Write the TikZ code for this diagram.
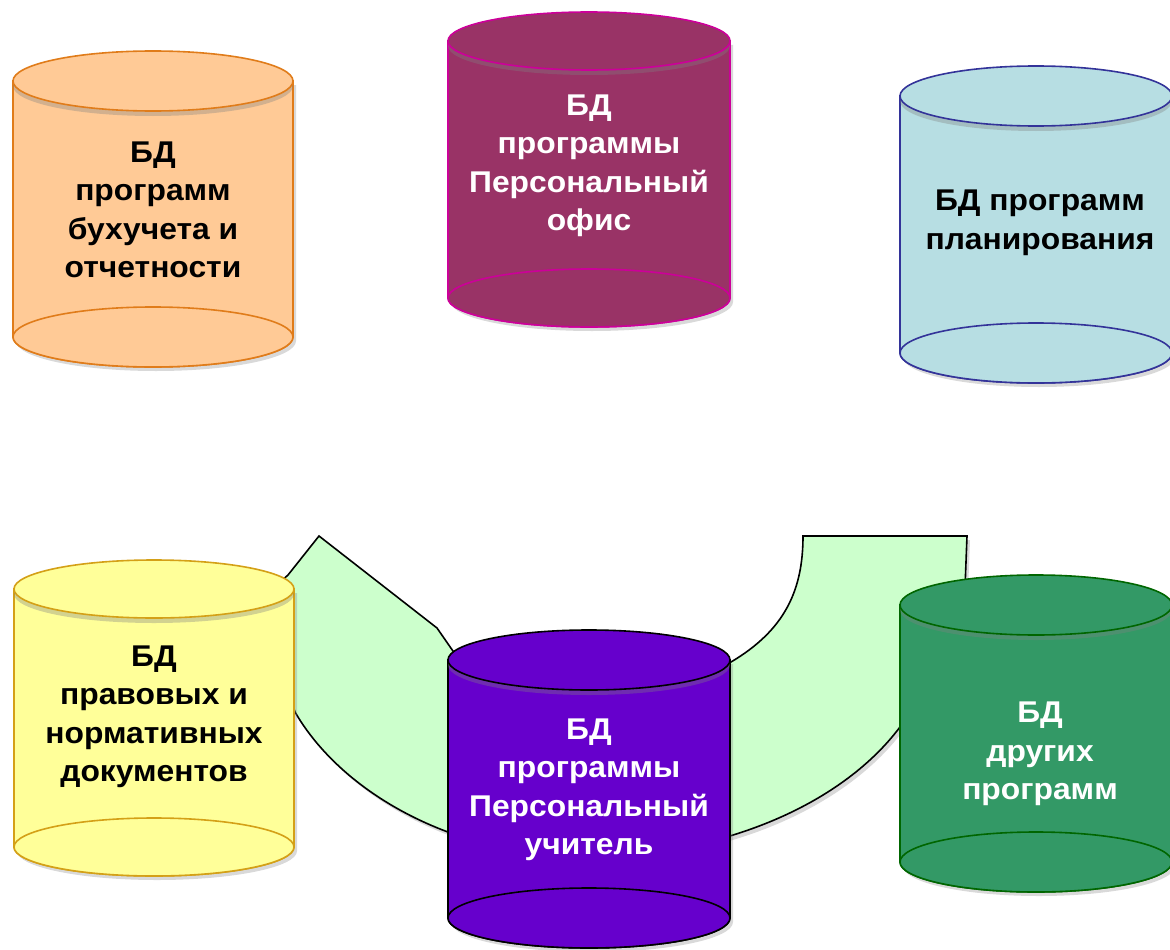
\documentclass[tikz,border=0pt]{standalone}
\usepackage{fontspec}
\setmainfont{Liberation Sans}[FakeStretch=1.06]
\usetikzlibrary{shadows}

\definecolor{ledgerfill}{HTML}{FFCA96}
\definecolor{ledgerline}{HTML}{E07C1A}
\definecolor{officefill}{HTML}{993366}
\definecolor{officeline}{HTML}{CC0099}
\definecolor{planfill}{HTML}{B7DEE3}
\definecolor{planline}{HTML}{333399}
\definecolor{lawfill}{HTML}{FFFF99}
\definecolor{lawline}{HTML}{D4A017}
\definecolor{teacherfill}{HTML}{6600CC}
\definecolor{otherfill}{HTML}{339966}
\definecolor{otherline}{HTML}{006600}
\definecolor{bandfill}{HTML}{CCFFCC}

% cylinder: style, centre x, top y, bottom y, rx, ry
\def\dbcylinder[#1](#2,#3)(#4:#5:#6){%
  \draw[#1, drop shadow={opacity=0.3, shadow xshift=3pt, shadow yshift=-4pt}] (#2-#5,#3) -- (#2-#5,#4) arc (180:0:#5 and #6) -- (#2+#5,#3) -- cycle;
  \draw[#1] (#2,#4) ellipse (#5 and #6);
  \draw[#1, drop shadow={opacity=0.35, shadow xshift=0pt, shadow yshift=-5pt}] (#2,#3) ellipse (#5 and #6);}

\tikzset{dbtext/.style={align=center, font=\fontsize{30}{38.5}\selectfont\bfseries}}

\begin{document}
\begin{tikzpicture}[x=1pt, y=-1pt, line width=1.6pt]
			%%%%% START %%%%%
			\useasboundingbox (0,0) rectangle (1170,950);
			
			% band behind the lower row
			\draw[fill=bandfill, drop shadow={opacity=0.3, shadow xshift=3pt, shadow yshift=-4pt}]
			  (319,536) -- (437,628) -- (480,690) -- (700,690) -- (731,662)
			  .. controls (785,630) and (803,590) .. (803,536) -- (967,536) -- (963,640) -- (920,700) -- (905,720)
			  .. controls (850,800) and (730,855) .. (590,857)
			  .. controls (450,857) and (340,790) .. (295,712) -- (260,600) -- (288,575) -- cycle;
			
			% upper row
			\dbcylinder[fill=ledgerfill, draw=ledgerline](153,81)(337:140:30);
			\node[dbtext] (ledger) at (153,210) {БД\\программ\\бухучета и\\отчетности};
			
			\dbcylinder[fill=officefill, draw=officeline](589,41)(298:141:29);
			\node[dbtext, text=white] (office) at (589,166) {БД\\программы\\Персональный\\офис};
			
			\dbcylinder[fill=planfill, draw=planline](1036,96)(353:136:30);
			\node[dbtext] (plan) at (1040,223) {БД программ\\планирования};
			
			% lower row
			\dbcylinder[fill=lawfill, draw=lawline](154,589)(847:140:29);
			\node[dbtext] (law) at (154,717) {БД\\правовых и\\нормативных\\документов};
			
			\dbcylinder[fill=teacherfill, draw=black](589,660)(918:141:30);
			\node[dbtext, text=white] (teacher) at (589,790) {БД\\программы\\Персональный\\учитель};
			
			\dbcylinder[fill=otherfill, draw=otherline](1036,605)(862:136:30);
			\node[dbtext, text=white] (other) at (1040,754) {БД\\других\\программ};
			
			%%%%% END %%%%%
\end{tikzpicture}
\end{document}
